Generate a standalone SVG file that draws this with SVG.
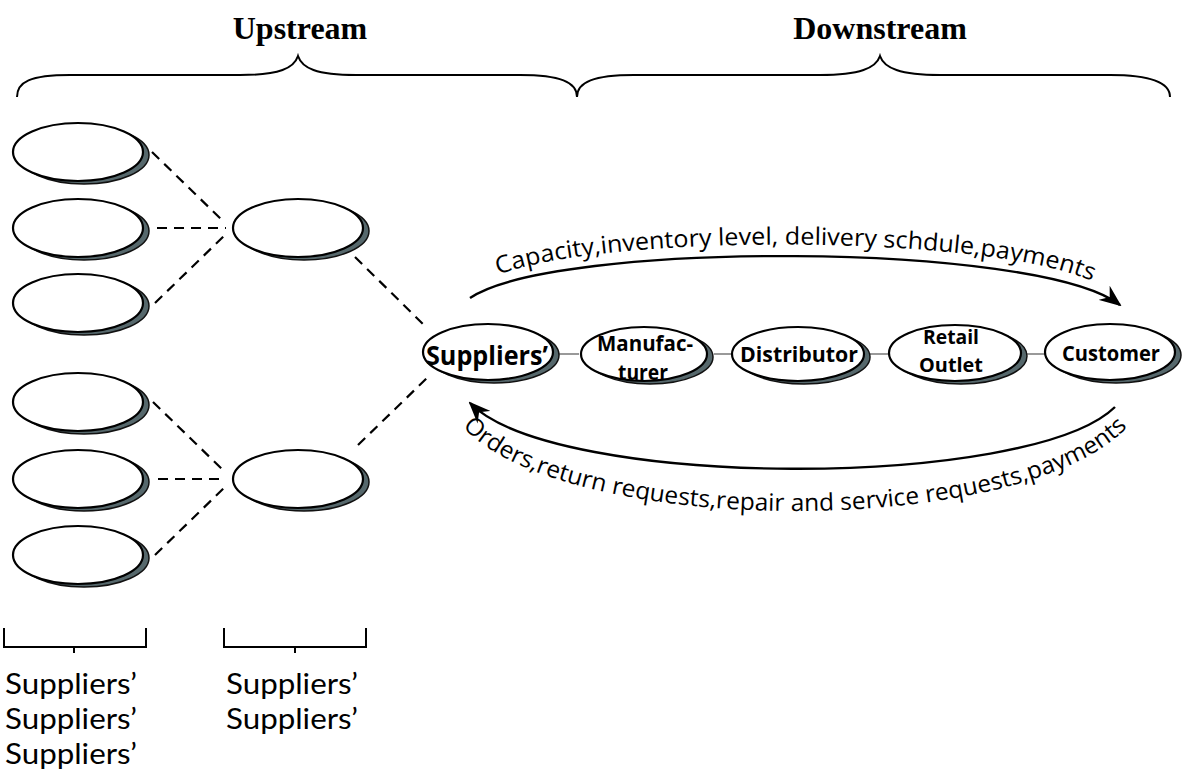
<svg xmlns="http://www.w3.org/2000/svg" xmlns:xlink="http://www.w3.org/1999/xlink" width="1192" height="781" viewBox="0 0 1192 781">
  <style>
    .title { font-family: "Liberation Serif", serif; font-weight: bold; font-size: 32px; fill: #000; text-anchor: middle; }
    .brace { fill: none; stroke: #000; stroke-width: 2; }
    .shade { fill: #56686c; stroke: #111; stroke-width: 1.5; }
    .face { fill: #fff; stroke: #000; stroke-width: 2.2; }
    .dash { fill: none; stroke: #000; stroke-width: 2.2; stroke-dasharray: 10 7; }
    .link { fill: none; stroke: #555; stroke-width: 1.2; }
    .flow { fill: none; stroke: #000; stroke-width: 2.4; }
    .node-label { font-family: "Open Sans", "Noto Sans", sans-serif; font-weight: bold; fill: #000; text-anchor: middle; }
    .flow-label { font-family: "Open Sans", "Noto Sans", sans-serif; font-size: 24px; fill: #000; text-anchor: middle; }
    .tier-label { font-family: Lato, "Open Sans", sans-serif; font-size: 29px; fill: #000; }
  </style>
  <defs>
    <marker id="arrow" viewBox="0 0 22 18" refX="20" refY="9" markerWidth="22" markerHeight="18" markerUnits="userSpaceOnUse" orient="auto">
      <path d="M0,0 L22,9 L0,18 L7,9 Z" fill="#000"/>
    </marker>
    <path id="topText" d="M484,282 C565,231 1025,231 1106,289"/>
    <path id="bottomText" d="M460,424 C560,540 1030,540 1130,424"/>
  </defs>

  <rect width="1192" height="781" fill="#fff"/>

  <!-- headings and braces -->
  <text class="title" x="300" y="39">Upstream</text>
  <text class="title" x="880" y="39">Downstream</text>
  <path class="brace" d="M17,97 C17,82 30,75 70,75 L240,75 C280,75 294,68 298,56 C302,68 316,75 356,75 L520,75 C560,75 577,82 577,97"/>
  <path class="brace" d="M577,97 C577,82 594,75 634,75 L820,75 C860,75 876,68 880,56 C884,68 900,75 940,75 L1110,75 C1150,75 1170,82 1170,97"/>

  <!-- connectors -->
  <g id="connectors">
    <line class="dash" x1="152" y1="152" x2="222" y2="220"/>
    <line class="dash" x1="157" y1="228" x2="226" y2="228"/>
    <line class="dash" x1="155" y1="303" x2="224" y2="236"/>
    <line class="dash" x1="153" y1="402" x2="223" y2="470"/>
    <line class="dash" x1="158" y1="479" x2="226" y2="479"/>
    <line class="dash" x1="155" y1="555" x2="224" y2="488"/>
    <line class="dash" x1="355" y1="257" x2="424" y2="325"/>
    <line class="dash" x1="358" y1="445" x2="427" y2="378"/>
    <line class="link" x1="557" y1="354" x2="579" y2="354"/>
    <line class="link" x1="714" y1="354" x2="733" y2="354"/>
    <line class="link" x1="868" y1="354" x2="889" y2="354"/>
    <line class="link" x1="1026" y1="354" x2="1046" y2="354"/>
    <path class="flow" d="M470,298 C553,241 1037,241 1120,305" marker-end="url(#arrow)"/>
    <path class="flow" d="M1115,407 C1030,490 555,490 470,403" marker-end="url(#arrow)"/>
    <text class="flow-label"><textPath xlink:href="#topText" href="#topText" startOffset="50%" textLength="600" lengthAdjust="spacingAndGlyphs">Capacity,inventory level, delivery schdule,payments</textPath></text>
    <text class="flow-label"><textPath xlink:href="#bottomText" href="#bottomText" startOffset="50%" textLength="700" lengthAdjust="spacingAndGlyphs">Orders,return requests,repair and service requests,payments</textPath></text>
  </g>

  <!-- second-tier suppliers (left column) -->
  <g id="s3-1"><ellipse class="shade" cx="84" cy="155" rx="65" ry="29"/><ellipse class="face" cx="78" cy="152" rx="65" ry="29"/></g>
  <g id="s3-2"><ellipse class="shade" cx="84" cy="231" rx="65" ry="29"/><ellipse class="face" cx="78" cy="228" rx="65" ry="29"/></g>
  <g id="s3-3"><ellipse class="shade" cx="84" cy="306" rx="65" ry="29"/><ellipse class="face" cx="78" cy="303" rx="65" ry="29"/></g>
  <g id="s3-4"><ellipse class="shade" cx="84" cy="405" rx="65" ry="29"/><ellipse class="face" cx="78" cy="402" rx="65" ry="29"/></g>
  <g id="s3-5"><ellipse class="shade" cx="84" cy="482" rx="65" ry="29"/><ellipse class="face" cx="78" cy="479" rx="65" ry="29"/></g>
  <g id="s3-6"><ellipse class="shade" cx="84" cy="558" rx="65" ry="29"/><ellipse class="face" cx="78" cy="555" rx="65" ry="29"/></g>

  <!-- first-tier suppliers (middle column) -->
  <g id="s2-1"><ellipse class="shade" cx="304" cy="231" rx="65" ry="29"/><ellipse class="face" cx="298" cy="228" rx="65" ry="29"/></g>
  <g id="s2-2"><ellipse class="shade" cx="304" cy="482" rx="65" ry="29"/><ellipse class="face" cx="298" cy="479" rx="65" ry="29"/></g>

  <!-- main chain -->
  <g id="suppliers">
    <ellipse class="shade" cx="494" cy="355" rx="65" ry="28"/><ellipse class="face" cx="488" cy="352" rx="65" ry="28"/>
    <text class="node-label" x="487" y="365" font-size="27" textLength="122" lengthAdjust="spacingAndGlyphs">Suppliers’</text>
  </g>
  <g id="manufacturer">
    <ellipse class="shade" cx="650" cy="357" rx="63" ry="27"/><ellipse class="face" cx="644" cy="354" rx="63" ry="27"/>
    <text class="node-label" x="645" y="351" font-size="22" textLength="96" lengthAdjust="spacingAndGlyphs">Manufac-</text>
    <text class="node-label" x="643" y="380" font-size="22" textLength="50" lengthAdjust="spacingAndGlyphs">turer</text>
  </g>
  <g id="distributor">
    <ellipse class="shade" cx="804" cy="357" rx="66" ry="27"/><ellipse class="face" cx="798" cy="354" rx="66" ry="27"/>
    <text class="node-label" x="799" y="362" font-size="22" textLength="118" lengthAdjust="spacingAndGlyphs">Distributor</text>
  </g>
  <g id="retail">
    <ellipse class="shade" cx="961" cy="356" rx="66" ry="28"/><ellipse class="face" cx="955" cy="353" rx="66" ry="28"/>
    <text class="node-label" x="951" y="344" font-size="20" textLength="56" lengthAdjust="spacingAndGlyphs">Retail</text>
    <text class="node-label" x="951" y="372" font-size="20" textLength="64" lengthAdjust="spacingAndGlyphs">Outlet</text>
  </g>
  <g id="customer">
    <ellipse class="shade" cx="1116" cy="355" rx="65" ry="28"/><ellipse class="face" cx="1110" cy="352" rx="65" ry="28"/>
    <text class="node-label" x="1111" y="361" font-size="22" textLength="98" lengthAdjust="spacingAndGlyphs">Customer</text>
  </g>

  <!-- tier brackets and labels -->
  <path class="brace" d="M4,628 L4,647 L146,647 L146,628 M74,647 L74,653"/>
  <path class="brace" d="M224,628 L224,647 L366,647 L366,628 M295,647 L295,653"/>
  <text class="tier-label" x="5" y="694" textLength="132" lengthAdjust="spacingAndGlyphs">Suppliers’</text>
  <text class="tier-label" x="5" y="729" textLength="132" lengthAdjust="spacingAndGlyphs">Suppliers’</text>
  <text class="tier-label" x="5" y="764" textLength="132" lengthAdjust="spacingAndGlyphs">Suppliers’</text>
  <text class="tier-label" x="226" y="694" textLength="132" lengthAdjust="spacingAndGlyphs">Suppliers’</text>
  <text class="tier-label" x="226" y="729" textLength="132" lengthAdjust="spacingAndGlyphs">Suppliers’</text>
</svg>
